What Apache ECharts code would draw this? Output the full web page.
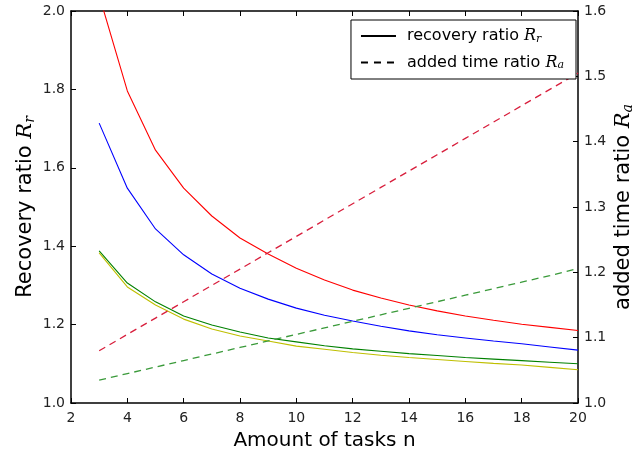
<!DOCTYPE html>
<html>
<head>
<meta charset="utf-8">
<script src="https://cdn.jsdelivr.net/npm/echarts@6/dist/echarts.min.js"></script>
<style>html,body{margin:0;padding:0;background:#fff}#c{width:644px;height:454px}</style>
</head>
<body>
<div id="c"></div>
<script>
const tasks = [3,4,5,6,7,8,9,10,11,12,13,14,15,16,17,18,19,20];
const recRed = [2.04,1.796,1.645,1.548,1.477,1.421,1.38,1.344,1.314,1.288,1.268,1.25,1.235,1.222,1.211,1.201,1.193,1.185];
const recBlue = [1.714,1.548,1.444,1.378,1.329,1.293,1.265,1.242,1.224,1.209,1.196,1.184,1.174,1.166,1.158,1.151,1.143,1.135];
const recGreen = [1.388,1.306,1.258,1.222,1.199,1.181,1.166,1.156,1.146,1.138,1.132,1.126,1.121,1.116,1.112,1.108,1.104,1.100];
const recYellow = [1.383,1.296,1.25,1.214,1.189,1.171,1.158,1.145,1.137,1.129,1.122,1.116,1.111,1.106,1.101,1.097,1.091,1.085];
const addRed = [1.080,1.105,1.130,1.155,1.180,1.205,1.230,1.255,1.280,1.305,1.330,1.355,1.380,1.405,1.430,1.455,1.480,1.505];
const addGreen = [1.035,1.045,1.055,1.065,1.075,1.085,1.095,1.105,1.115,1.125,1.135,1.145,1.155,1.165,1.175,1.185,1.195,1.206];

const F = 'DejaVu Sans';
const pair = (ys) => tasks.map((x, i) => [x, ys[i]]);
const solid = (name, color, ys) => ({
  name, type: 'line', data: pair(ys), yAxisIndex: 0, symbol: 'none',
  lineStyle: { color, width: 1.1 }, itemStyle: { color }, animation: false, silent: true
});
const dashed = (name, color, ys) => ({
  name, type: 'line', data: pair(ys), yAxisIndex: 1, symbol: 'none',
  lineStyle: { color, width: 1.3, type: [7, 5] }, itemStyle: { color }, animation: false, silent: true
});
const tick = { show: true, inside: true, length: 5, lineStyle: { color: '#000', width: 1 } };
const line = { show: true, lineStyle: { color: '#000', width: 1.5 } };
const lab = { color: '#222', fontFamily: F, fontSize: 14 };
const richT = {
  n: { fontFamily: F, fontSize: 21, color: '#000' },
  it: { fontFamily: 'DejaVu Serif', fontStyle: 'italic', fontSize: 21, color: '#000' },
  sub: { fontFamily: 'DejaVu Serif', fontStyle: 'italic', fontSize: 14, color: '#000', padding: [8, 0, 0, 0] }
};
const richL = {
  n: { fontFamily: F, fontSize: 16, color: '#000' },
  it: { fontFamily: 'DejaVu Serif', fontStyle: 'italic', fontSize: 16, color: '#000' },
  sub: { fontFamily: 'DejaVu Serif', fontStyle: 'italic', fontSize: 11, color: '#000', padding: [6, 0, 0, 0] }
};

const chart = echarts.init(document.getElementById('c'), null, { renderer: 'canvas' });
chart.setOption({
  backgroundColor: '#fff',
  animation: false,
  grid: { left: 71, right: 66, top: 11, bottom: 51, containLabel: false, outerBoundsMode: 'none' },
  legend: {
    data: ['recovery ratio', 'added time ratio'],
    right: 68, top: 20, orient: 'vertical',
    itemWidth: 35, itemGap: 10, padding: [8, 12, 8, 9],
    borderColor: '#000', borderWidth: 1, backgroundColor: '#fff',
    itemStyle: { opacity: 0 },
    formatter: (name) => name === 'recovery ratio'
      ? '{n|recovery ratio }{it|R}{sub|r}'
      : '{n|added time ratio }{it|R}{sub|a}',
    textStyle: { rich: richL, fontSize: 16, fontFamily: F, padding: [0, 0, 0, 6] }
  },
  xAxis: [{
    type: 'value', min: 2, max: 20, interval: 2,
    axisLine: line, axisTick: tick, splitLine: { show: false },
    axisLabel: Object.assign({ margin: 8 }, lab),
    name: 'Amount of tasks n', nameLocation: 'middle', nameGap: 28,
    nameTextStyle: { fontFamily: F, fontSize: 20, color: '#000' }
  }, {
    type: 'value', min: 2, max: 20, interval: 2, position: 'top',
    axisLine: line, axisTick: tick, axisLabel: { show: false }, splitLine: { show: false }
  }],
  yAxis: [{
    type: 'value', min: 1, max: 2, interval: 0.2, position: 'left',
    axisLine: line, axisTick: tick, splitLine: { show: false },
    axisLabel: Object.assign({ margin: 6, formatter: (v) => v.toFixed(1) }, lab),
    name: '{n|Recovery ratio }{it|R}{sub|r}', nameLocation: 'middle', nameGap: 34, nameRotate: 90,
    nameMoveOverlap: false,
    nameTextStyle: { rich: richT }
  }, {
    type: 'value', min: 1, max: 1.6, interval: 0.1, position: 'right',
    axisLine: line, axisTick: tick, splitLine: { show: false },
    axisLabel: Object.assign({ margin: 6, formatter: (v) => v.toFixed(1) }, lab),
    name: '{n|added time ratio }{it|R}{sub|a}', nameLocation: 'middle', nameGap: 35, nameRotate: 90,
    nameMoveOverlap: false,
    nameTextStyle: { rich: richT }
  }],
  series: [
    solid('s-red', '#ff0000', recRed),
    solid('s-blue', '#0000ff', recBlue),
    solid('s-green', '#008000', recGreen),
    solid('s-yellow', '#bfbf00', recYellow),
    dashed('d-red', '#d81e3c', addRed),
    dashed('d-green', '#3a9a3a', addGreen),
    { name: 'recovery ratio', type: 'line', data: [], symbol: 'none', lineStyle: { color: '#000', width: 1.2 }, itemStyle: { color: '#000' } },
    { name: 'added time ratio', type: 'line', data: [], symbol: 'none', lineStyle: { color: '#000', width: 1.2, type: [7, 6] }, itemStyle: { color: '#000' } }
  ]
});
</script>
</body>
</html>
